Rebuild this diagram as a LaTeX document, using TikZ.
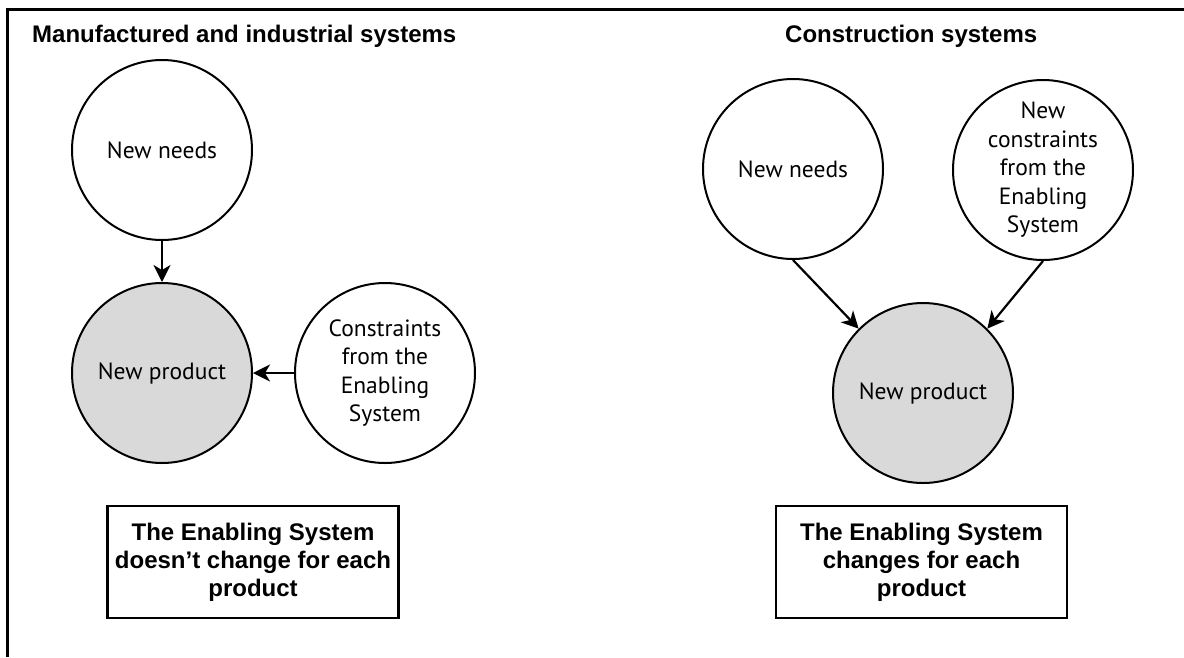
\documentclass[tikz,border=0pt]{standalone}
\usepackage{fontspec}
\setmainfont{Liberation Sans}
\newfontfamily\circfont{PT Sans}
\usetikzlibrary{arrows.meta}
\definecolor{prodgray}{HTML}{D9D9D9}
\tikzset{
  bub/.style={circle, draw=black, line width=2pt, minimum size=180pt, inner sep=0pt,
    align=center, font=\circfont\fontsize{23.5}{28.5}\selectfont},
  prod/.style={bub, fill=prodgray},
  conn/.style={line width=2.2pt, -{Stealth[length=17pt,width=17pt,inset=5pt]}},
  title/.style={anchor=base west, inner sep=0pt, font=\bfseries\fontsize{24}{28}\selectfont},
  note/.style={draw=black, line width=2.8pt, minimum width=291pt, minimum height=112pt,
    inner sep=0pt, align=center, font=\bfseries\fontsize{24}{28}\selectfont}
}
\begin{document}
\begin{tikzpicture}[x=1pt,y=-1pt]
\useasboundingbox (0,0) rectangle (1184,657);
\fill[white] (0,0) rectangle (1184,657);
% frame
\draw[line width=3pt] (7.5,657) -- (7.5,9) -- (1184,9);
% titles
\node[title] (t1) at (32,42) {Manufactured and industrial systems};
\node[title] (t2) at (785,42) {Construction systems};
% left
\node[bub] (n1) at (162,150) {New needs};
\node[prod] (p1) at (162,373) {New product};
\node[bub] (c1) at (385,373) {Constraints\\from the\\Enabling\\System};
\draw[conn] (n1) -- (p1);
\draw[conn] (c1) -- (p1);
\node[note] (b1) at (253,562) {The Enabling System\\doesn’t change for each\\product};
% right
\node[bub] (n2) at (793,169) {New needs};
\node[bub] (c2) at (1043,170) {New\\constraints\\from the\\Enabling\\System};
\node[prod] (p2) at (923,393) {New product};
\draw[conn] (n2.south) -- (p2.135);
\draw[conn] (c2.south) -- (p2.45);
\node[note] (b2) at (921.5,562) {The Enabling System\\changes for each\\product};
\end{tikzpicture}
\end{document}
